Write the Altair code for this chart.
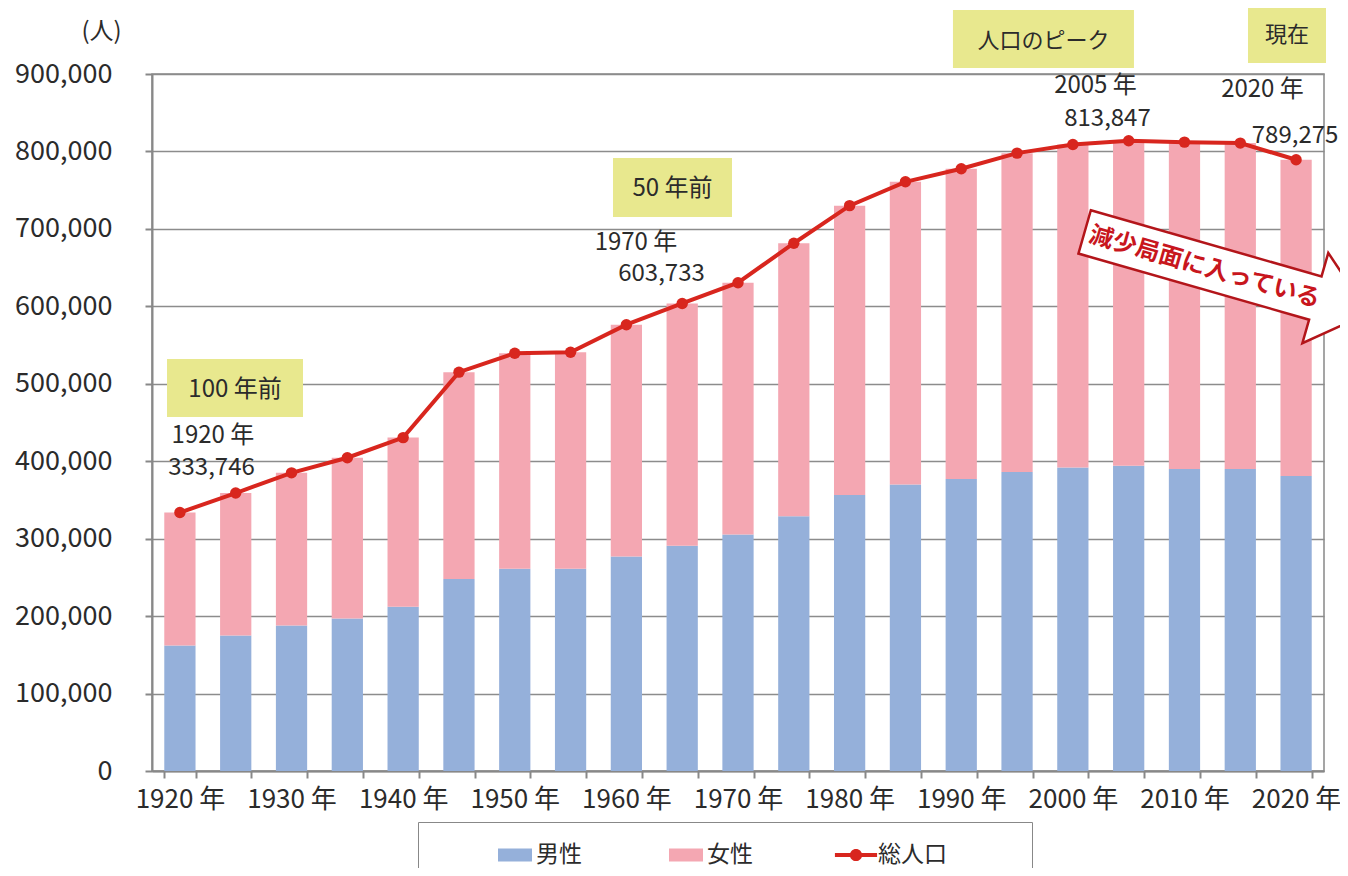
import math
import altair as alt
import pandas as pd

# ---------------- data ----------------
years = ["1920", "1925", "1930", "1935", "1940", "1947", "1950", "1955", "1960", "1965",
         "1970", "1975", "1980", "1985", "1990", "1995", "2000", "2005", "2010", "2015", "2020"]
male = [162000, 175000, 188000, 197000, 212000, 248000, 261000, 261000, 277000, 291000,
        305500, 329000, 356500, 370000, 377000, 386000, 392000, 394000, 390000, 390000, 381000]
female = [171700, 183900, 197000, 207500, 218500, 267000, 278500, 279800, 299300, 312700,
          325000, 352500, 373500, 390800, 400600, 411800, 417000, 419800, 422000, 420800, 408300]
total = [333746, 358900, 385000, 404500, 430500, 515000, 539500, 540800, 576300, 603733,
         630500, 681500, 730000, 760800, 777600, 797800, 809000, 813847, 812000, 810800, 789275]

series_names = ["男性", "女性", "総人口"]
BLUE, PINK, RED = "#95B0DA", "#F4A7B2", "#D8261E"

# ---------------- style ----------------
FONT = "Noto Sans CJK JP"
TXT = "#2b2b2b"
GRID = "#8c8c8c"
YELLOW = "#E8E88E"
W, H = 1172, 697

bars_df = pd.DataFrame({
    "year": years * 2,
    "series": [series_names[0]] * len(years) + [series_names[1]] * len(years),
    "value": male + female,
    "ord": [0] * len(years) + [1] * len(years),
})
line_df = pd.DataFrame({"year": years, "series": series_names[2], "value": total})

x_scale = alt.Scale(domain=years, paddingInner=0.44, paddingOuter=0.22)
y_scale = alt.Scale(domain=[0, 900000], nice=False)

x_axis = alt.Axis(
    title=None, labelAngle=0, tickBand="extent", ticks=True, tickSize=7, tickWidth=2,
    tickColor="#888", domainColor="#888", domainWidth=2, grid=False,
    labelExpr="(+datum.value) % 10 == 0 ? datum.value + ' 年' : ''",
    labelFont=FONT, labelFontSize=26, labelColor=TXT, labelPadding=8, labelOverlap=False,
)
y_axis = alt.Axis(
    values=list(range(0, 900001, 100000)), format=",d", title="(人)", titleAngle=0,
    titleX=-51, titleY=-43, titleAlign="center", titleBaseline="middle",
    titleFont=FONT, titleFontSize=24, titleFontWeight="normal", titleColor=TXT,
    gridColor=GRID, gridWidth=1.5, domainColor="#888", domainWidth=2,
    tickColor="#888", tickSize=7, tickWidth=2,
    labelFont=FONT, labelFontSize=27, labelColor=TXT, labelPadding=33,
)


def X():
    return alt.X("year:N", scale=x_scale, axis=x_axis, sort=years)


def Y(stack=False):
    if stack:
        return alt.Y("value:Q", scale=y_scale, axis=y_axis, stack="zero")
    return alt.Y("value:Q", scale=y_scale, axis=y_axis, stack=None)


rect_sym = "M-1,-0.38L1,-0.38L1,0.38L-1,0.38Z"
line_sym = ("M-1.24,-0.12L1.24,-0.12L1.24,0.12L-1.24,0.12Z"
            "M0.36,0A0.36,0.36 0 1,1 -0.36,0A0.36,0.36 0 1,1 0.36,0Z")
ZW = "\u200b"      # keeps the padding spaces from being trimmed
FW = "\u3000"

# legend A: the bordered legend box with the three labels (bar swatches)
legend_a = alt.Legend(
    orient="none", legendX=266, legendY=748, direction="horizontal", columns=3,
    title="ああ", titleOpacity=0, titleOrient="left", titleFont=FONT, titleFontSize=26,
    titlePadding=11, padding=16, strokeColor="#888",
    symbolType=rect_sym, symbolSize=1156, symbolStrokeWidth=0, symbolOpacity=1,
    labelFont=FONT, labelFontSize=23, labelColor=TXT, labelOffset=4, columnPadding=87,
    labelExpr="datum.label == '総人口' ? '総人口" + FW * 3 + ZW + "' : datum.label",
)
color_a = alt.Color(
    "series:N", sort=series_names, legend=legend_a,
    scale=alt.Scale(domain=series_names, range=[BLUE, PINK, "rgba(255,255,255,0)"]),
)

# legend B: only the line-with-dot symbol for the total population
legend_b = alt.Legend(
    orient="none", legendX=687, legendY=764, direction="horizontal", title=None,
    padding=0, symbolType=line_sym, symbolSize=1156, symbolStrokeWidth=0, symbolOpacity=1,
    labelExpr="''", labelFontSize=2,
)
fill_b = alt.Fill("series:N", legend=legend_b,
                  scale=alt.Scale(domain=[series_names[2]], range=[RED]))

bars = alt.Chart(bars_df).mark_bar(opacity=1).encode(
    x=X(), y=Y(stack=True), color=color_a,
    order=alt.Order("ord:Q", sort="ascending"),
)
line = alt.Chart(line_df).mark_line(strokeWidth=4, color=RED, interpolate="linear").encode(
    x=X(), y=Y(),
)
dots = alt.Chart(line_df).mark_point(filled=True, size=130, opacity=1).encode(
    x=X(), y=Y(), fill=fill_b,
)
layers = [bars, line, dots]

# ---------------- yellow labelled boxes ----------------
BOX_SIZE = 40000  # custom path unit = 100 px
box_specs = [  # (anchor year, anchor value, dx px, width px, height px, text, font size)
    ("1925", 494600, -0.7, 136, 58, "100 年前", 24),
    ("1965", 753500, -9.7, 119, 59, "50 年前", 24),
    ("2000", 945200, -29.4, 181, 58, "人口のピーク", 22),
    ("2020", 952400, -9.1, 78, 59, "現在", 22),
]
for yr, val, dx, bw, bh, label, fs in box_specs:
    x0, x1 = (dx - bw / 2) / 100, (dx + bw / 2) / 100
    y0, y1 = -bh / 200, bh / 200
    path = f"M{x0:.4f},{y0:.4f}L{x1:.4f},{y0:.4f}L{x1:.4f},{y1:.4f}L{x0:.4f},{y1:.4f}Z"
    d = pd.DataFrame({"year": [yr], "value": [val], "label": [label]})
    layers.append(alt.Chart(d).mark_point(
        shape=path, size=BOX_SIZE, filled=True, fill=YELLOW, opacity=1, strokeWidth=0
    ).encode(x=X(), y=Y()))
    layers.append(alt.Chart(d).mark_text(
        font=FONT, fontSize=fs, color=TXT, dx=dx, dy=2, align="center", baseline="middle"
    ).encode(x=X(), y=Y(), text="label:N"))

# ---------------- value annotations ----------------
notes = [  # (anchor year, anchor value, dx, text)
    ("1920", 432500, 33, "1920 年"),
    ("1920", 391000, 31.6, "333,746"),
    ("1960", 681800, 9.6, "1970 年"),
    ("1965", 642300, -20.7, "603,733"),
    ("2000", 884500, 22.6, "2005 年"),
    ("2005", 842500, -21.2, "813,847"),
    ("2015", 879000, 22.2, "2020 年"),
    ("2020", 820000, -1.0, "789,275"),
]
for yr, val, dx, label in notes:
    d = pd.DataFrame({"year": [yr], "value": [val], "label": [label]})
    layers.append(alt.Chart(d).mark_text(
        font=FONT, fontSize=24, color=TXT, dx=dx, align="center", baseline="middle"
    ).encode(x=X(), y=Y(), text="label:N"))

# ---------------- decreasing-phase arrow ----------------
ANG = 16.0
ARROW_SIZE = 160000  # unit = 200 px
c, s = math.cos(math.radians(ANG)), math.sin(math.radians(ANG))
local = [(-120, -22.5), (120, -22.5), (120, -47), (175, 0), (120, 47), (120, 22.5), (-120, 22.5)]
pts = []
for u, v in local:
    px = u * c - v * s + 15.5
    py = u * s + v * c
    pts.append(f"{px / 200:.4f},{py / 200:.4f}")
arrow_path = "M" + "L".join(pts) + "Z"
arrow_df = pd.DataFrame({"year": ["2010"], "value": [653400], "label": ["減少局面に入っている"]})
layers.append(alt.Chart(arrow_df).mark_point(
    shape=arrow_path, size=ARROW_SIZE, filled=True, fill="white", opacity=1,
    stroke="#B3151A", strokeWidth=2.5
).encode(x=X(), y=Y()))
layers.append(alt.Chart(arrow_df).mark_text(
    font=FONT, fontSize=24, fontWeight="bold", color="#C8161D", angle=ANG,
    dx=20, dy=-3, align="center", baseline="middle"
).encode(x=X(), y=Y(), text="label:N"))

chart = alt.layer(*layers).properties(
    width=W, height=H,
    autosize=alt.AutoSizeParams(type="none"),
    padding={"left": 144, "top": 66, "right": 16, "bottom": 97},
    background="white",
).resolve_legend(color="independent", fill="independent").configure_view(
    stroke="#888", strokeWidth=1.5
)

chart.save("out.html", embed_options={"renderer": "svg", "actions": False})
